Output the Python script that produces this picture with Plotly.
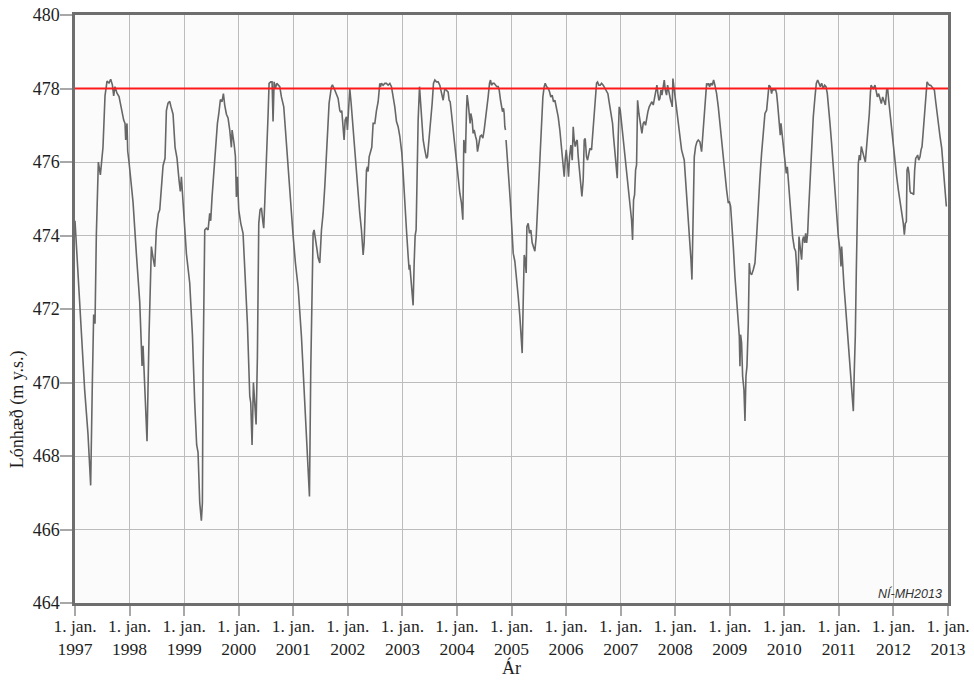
import plotly.graph_objects as go

# Decimal-year time stamps and reservoir level (m y.s.)
years = [
    1997.000, 1997.086, 1997.177, 1997.238, 1997.287, 1997.318, 1997.342, 1997.367, 1997.391, 1997.428,
    1997.465, 1997.513, 1997.550, 1997.587, 1997.623, 1997.654, 1997.685, 1997.709, 1997.733, 1997.770,
    1997.807, 1997.831, 1997.855, 1997.892, 1997.917, 1997.929, 1997.953, 1997.966, 1997.990, 1998.064,
    1998.125, 1998.186, 1998.216, 1998.229, 1998.247, 1998.278, 1998.320, 1998.357, 1998.400, 1998.430,
    1998.461, 1998.491, 1998.528, 1998.553, 1998.583, 1998.614, 1998.650, 1998.675, 1998.705, 1998.736,
    1998.760, 1998.797, 1998.834, 1998.870, 1998.907, 1998.931, 1998.950, 1998.980, 1999.042, 1999.103,
    1999.152, 1999.194, 1999.230,
    1999.255, 1999.286, 1999.316, 1999.335, 1999.347, 1999.359, 1999.378, 1999.408, 1999.439, 1999.469,
    1999.487, 1999.512, 1999.549, 1999.573, 1999.610, 1999.634, 1999.665, 1999.695, 1999.720, 1999.744,
    1999.775, 1999.805, 1999.836, 1999.866, 1999.879, 1999.915, 1999.940, 1999.958, 1999.976, 2000.001,
    2000.038, 2000.080, 2000.111, 2000.160, 2000.203, 2000.221, 2000.245, 2000.270, 2000.294, 2000.319,
    2000.343, 2000.368, 2000.392, 2000.417, 2000.441, 2000.459, 2000.478, 2000.508, 2000.539, 2000.557,
    2000.588, 2000.612, 2000.630, 2000.649, 2000.673, 2000.698, 2000.722, 2000.753, 2000.783, 2000.826,
    2000.857, 2000.906, 2000.948, 2000.997, 2001.040, 2001.089, 2001.150, 2001.199, 2001.242, 2001.272,
    2001.297, 2001.321, 2001.345, 2001.364, 2001.382, 2001.413, 2001.437, 2001.455, 2001.486, 2001.517,
    2001.547, 2001.578, 2001.620, 2001.657, 2001.700, 2001.718, 2001.761, 2001.792, 2001.822, 2001.853,
    2001.871, 2001.889, 2001.914, 2001.932, 2001.951, 2001.975, 2001.993, 2002.012, 2002.036, 2002.061,
    2002.097, 2002.128, 2002.158, 2002.189, 2002.219, 2002.250, 2002.281, 2002.299, 2002.317, 2002.342,
    2002.360, 2002.372, 2002.391, 2002.415, 2002.439, 2002.464, 2002.495, 2002.525, 2002.556, 2002.586,
    2002.598, 2002.617, 2002.647, 2002.678, 2002.708, 2002.739, 2002.770, 2002.800, 2002.831, 2002.861,
    2002.892, 2002.922, 2002.953, 2002.990, 2003.014, 2003.045, 2003.075, 2003.106, 2003.124, 2003.136,
    2003.155, 2003.179, 2003.197, 2003.216, 2003.234, 2003.252, 2003.271, 2003.289, 2003.314, 2003.332,
    2003.356, 2003.381, 2003.411, 2003.442, 2003.460, 2003.479, 2003.503, 2003.527, 2003.546, 2003.570,
    2003.595, 2003.625, 2003.656, 2003.686, 2003.717, 2003.747, 2003.778, 2003.809,
    2003.839, 2003.857, 2003.876, 2003.900, 2003.931, 2003.961, 2003.992, 2004.022, 2004.053, 2004.083,
    2004.108, 2004.126, 2004.145, 2004.157, 2004.175, 2004.187, 2004.206, 2004.224, 2004.242, 2004.255,
    2004.279, 2004.297, 2004.316, 2004.340, 2004.359, 2004.377, 2004.401, 2004.426, 2004.450, 2004.475,
    2004.499, 2004.524, 2004.548, 2004.572, 2004.597, 2004.615, 2004.634, 2004.658, 2004.682, 2004.707,
    2004.731, 2004.756, 2004.774, 2004.799, 2004.817, 2004.835, 2004.854, 2004.866, 2004.878, 2004.890,
    None,
    2004.900, 2004.915, 2004.939, 2004.964, 2004.988, 2005.013, 2005.031, 2005.061, 2005.092, 2005.123,
    2005.153, 2005.172, 2005.196, 2005.214, 2005.233, 2005.251, 2005.269, 2005.282, 2005.306, 2005.330,
    2005.355, 2005.379, 2005.404, 2005.428, 2005.453, 2005.477, 2005.501, 2005.526, 2005.550, 2005.575,
    2005.599, 2005.618, 2005.642, 2005.673, 2005.697, 2005.721, 2005.746, 2005.770, 2005.795, 2005.825,
    2005.856, 2005.886, 2005.917, 2005.948, 2005.966, 2005.984, 2006.003, 2006.027, 2006.045, 2006.064,
    2006.088, 2006.113,
    2006.131, 2006.149, 2006.168, 2006.186, 2006.204, 2006.223, 2006.241, 2006.265, 2006.290, 2006.314,
    2006.333, 2006.351, 2006.375, 2006.394, 2006.412, 2006.437, 2006.467, 2006.485, 2006.510, 2006.534,
    2006.559, 2006.577, 2006.602, 2006.626, 2006.650, 2006.681, 2006.712, 2006.742, 2006.767, 2006.785,
    2006.803, 2006.828, 2006.852, 2006.870, 2006.889, 2006.907, 2006.925, 2006.938, 2006.956, 2006.974,
    2006.993, 2007.017, 2007.048, 2007.078, 2007.109, 2007.139, 2007.170, 2007.200, 2007.219, 2007.237,
    2007.256, 2007.274, 2007.292, 2007.311, 2007.335, 2007.353, 2007.372, 2007.390, 2007.414, 2007.433,
    2007.457, 2007.476, 2007.500, 2007.524, 2007.549, 2007.573, 2007.598, 2007.622, 2007.647, 2007.665,
    2007.683, 2007.702, 2007.720, 2007.738, 2007.757, 2007.781, 2007.800, 2007.818, 2007.842, 2007.861,
    2007.879, 2007.897, 2007.916, 2007.934, 2007.946, 2007.958, 2007.977, 2007.995, 2008.026, 2008.056,
    2008.087, 2008.117, 2008.166, 2008.197, 2008.221, 2008.252, 2008.270, 2008.289, 2008.307, 2008.325,
    2008.350, 2008.374, 2008.399,
    2008.423, 2008.453, 2008.484, 2008.508, 2008.533, 2008.557, 2008.576, 2008.594, 2008.612, 2008.631,
    2008.655, 2008.680, 2008.704, 2008.728, 2008.759, 2008.790, 2008.820, 2008.851, 2008.881, 2008.912,
    2008.942, 2008.973, 2008.991, 2009.016, 2009.034, 2009.065, 2009.095, 2009.126, 2009.156, 2009.175,
    2009.187, 2009.199, 2009.217, 2009.236, 2009.260, 2009.279, 2009.297, 2009.315, 2009.340, 2009.358,
    2009.376, 2009.401, 2009.431, 2009.462, 2009.492, 2009.523, 2009.554, 2009.584, 2009.615, 2009.645,
    2009.676, 2009.694, 2009.719, 2009.743, 2009.767, 2009.786, 2009.810, 2009.835, 2009.859, 2009.877,
    2009.896, 2009.914, 2009.926, 2009.939, 2009.957, 2009.981, 2010.012, 2010.036, 2010.055, 2010.067,
    2010.091, 2010.122, 2010.152, 2010.183, 2010.207, 2010.226, 2010.250, 2010.269, 2010.293, 2010.317,
    2010.336, 2010.354, 2010.373, 2010.391, 2010.409, 2010.428, 2010.446, 2010.470, 2010.501, 2010.531,
    2010.562, 2010.586, 2010.611, 2010.635, 2010.660, 2010.684, 2010.709,
    2010.715, 2010.739, 2010.764, 2010.788, 2010.813, 2010.837, 2010.867, 2010.898, 2010.929, 2010.959,
    2010.990, 2011.020, 2011.039, 2011.051, 2011.069, 2011.094, 2011.118, 2011.143, 2011.173, 2011.204,
    2011.234, 2011.265, 2011.283, 2011.301, 2011.320, 2011.338, 2011.356, 2011.375, 2011.393, 2011.411,
    2011.436, 2011.460, 2011.485, 2011.509, 2011.534, 2011.558, 2011.577, 2011.589, 2011.607, 2011.632,
    2011.662, 2011.680, 2011.705, 2011.729, 2011.754, 2011.778, 2011.803, 2011.827, 2011.852, 2011.876,
    2011.894, 2011.913, 2011.937, 2011.968, 2011.998, 2012.029, 2012.059, 2012.090, 2012.120, 2012.151,
    2012.181, 2012.200, 2012.218, 2012.237, 2012.249, 2012.267, 2012.285, 2012.304, 2012.322, 2012.347,
    2012.371, 2012.389, 2012.408, 2012.426, 2012.444, 2012.463, 2012.487, 2012.506, 2012.524, 2012.548,
    2012.573, 2012.597, 2012.616, 2012.634, 2012.658, 2012.683, 2012.707, 2012.732, 2012.750, 2012.775,
    2012.805, 2012.830, 2012.854, 2012.885, 2012.915, 2012.940, 2012.970,
]

level = [
    474.4, 472.0, 469.8, 468.6, 467.2, 470.0, 471.85, 471.6, 474.0, 476.0,
    475.65, 476.4, 477.8, 478.2, 478.15, 478.25, 478.1, 477.8, 478.05, 477.87,
    477.78, 477.6, 477.4, 477.14, 477.05, 476.6, 477.05, 476.3, 476.0, 474.9,
    473.5, 472.2, 471.0, 470.45, 471.0, 469.8, 468.4, 471.3, 473.7, 473.4,
    473.15, 474.15, 474.6, 474.7, 475.4, 475.9, 476.1, 477.4, 477.6, 477.65,
    477.5, 477.3, 476.4, 476.1, 475.5, 475.2, 475.6, 474.9, 473.5, 472.7,
    471.3, 469.45, 468.3,
    468.1, 466.73, 466.24, 466.73, 470.35, 472.16, 474.15, 474.2, 474.15, 474.6,
    474.4, 475.05, 475.9, 476.24, 477.05, 477.3, 477.7, 477.64, 477.86, 477.55,
    477.3, 477.2, 476.87, 476.4, 476.87, 476.5, 476.15, 475.05, 475.6, 474.7,
    474.33, 474.06, 473.07, 471.6, 469.63, 469.45, 468.3, 470.0, 469.45, 468.86,
    470.7, 474.33, 474.7, 474.75, 474.4, 474.2, 474.9, 475.9, 477.3, 478.14,
    478.18, 478.18, 477.1, 478.18, 478.0, 478.14, 478.09, 478.05, 477.77, 477.5,
    476.87, 475.78, 474.88, 474.0, 473.25, 472.6, 471.26, 469.9, 468.45, 467.64,
    466.9, 470.35, 473.07, 474.06, 474.15, 473.9, 473.6, 473.4, 473.25, 474.15,
    474.6, 475.33, 476.5, 477.6, 478.05, 478.1, 477.96, 477.86, 477.73, 477.4,
    477.35, 477.4, 476.96, 476.6, 477.14, 477.23, 476.87, 477.6, 478.0, 477.6,
    476.87, 476.24, 475.6, 475.05, 474.6, 474.15, 473.47, 473.8, 474.9, 475.78,
    475.87, 475.74, 476.14, 476.24, 476.4, 477.05, 477.05, 477.4, 477.64, 478.14,
    478.05, 478.14, 478.09, 478.14, 478.14, 478.09, 478.14, 478.05, 477.82, 477.5,
    477.1, 476.96, 476.7, 476.24, 475.7, 475.05, 474.15, 473.43, 473.07, 473.2,
    472.8, 472.4, 472.1, 473.25, 474.0, 474.15, 476.0, 477.14, 478.05, 477.6,
    477.14, 476.6, 476.33, 476.1, 476.14, 476.42, 476.96, 477.14, 477.6, 478.14,
    478.23, 478.18, 478.18, 478.09, 477.86, 477.68, 478.0, 477.96,
    477.9, 477.68, 477.64, 477.32, 476.87, 476.42, 476.0, 475.5, 475.15, 474.88,
    474.43, 476.6, 476.42, 476.24, 477.4, 477.82, 477.6, 477.4, 477.05, 477.32,
    477.14, 476.78, 476.87, 476.7, 476.6, 476.28, 476.5, 476.7, 476.73, 476.65,
    476.87, 477.14, 477.4, 477.77, 478.14, 478.23, 478.09, 478.14, 478.14, 478.09,
    478.05, 478.05, 477.96, 477.68, 477.5, 477.37, 477.46, 477.32, 476.96, 476.87,
    None,
    476.6, 476.33, 475.78, 475.24, 474.7, 474.0, 473.52, 473.3, 472.89, 472.34,
    471.8, 471.35, 470.8, 472.16, 473.47, 473.33, 472.98, 474.24, 474.33, 474.06,
    474.15, 473.8, 473.66, 473.57, 473.97, 474.7, 475.51, 476.5, 477.23, 477.77,
    478.05, 478.14, 478.05, 478.0, 477.91, 477.77, 477.82, 477.64, 477.68, 477.46,
    477.23, 476.87, 476.42, 475.87, 475.6, 476.05, 476.33, 475.96, 475.6, 476.14,
    476.46, 476.05,
    476.96, 476.6, 476.42, 476.55, 476.6, 476.14, 475.78, 475.42, 475.06, 475.51,
    476.6, 476.64, 476.14, 476.05, 476.24, 476.37, 476.33, 476.69, 477.23, 477.77,
    478.15, 478.18, 478.09, 478.09, 478.14, 478.09, 478.0, 477.91, 477.86, 477.68,
    477.5, 477.32, 477.05, 476.69, 476.33, 476.05, 475.78, 475.56, 476.69, 477.5,
    477.41, 477.05, 476.69, 476.33, 475.87, 475.42, 474.88, 474.43, 473.88, 474.97,
    475.11, 475.78, 475.92, 477.68, 477.32, 477.14, 476.87, 476.78, 477.05, 477.1,
    477.0, 477.23, 477.37, 477.5, 477.59, 477.64, 477.55, 477.77, 478.0, 478.09,
    477.86, 477.68, 477.73, 477.96, 477.82, 478.0, 478.23, 477.96, 477.82, 478.09,
    477.91, 477.77, 477.68, 477.59, 477.5, 478.27, 478.05, 477.86, 477.5, 477.05,
    476.69, 476.33, 476.05, 475.42, 474.7, 474.24, 473.8, 473.34, 472.8, 473.97,
    476.14, 476.42, 476.55,
    476.6, 476.55, 476.28, 476.78, 477.14, 477.77, 478.14, 478.09, 478.14, 478.05,
    478.14, 478.09, 478.23, 478.09, 477.86, 477.5, 477.05, 476.51, 476.05, 475.6,
    475.24, 474.88, 474.93, 474.79, 474.24, 473.7, 472.89, 472.16, 471.44, 471.26,
    470.44, 471.3, 471.08, 470.17, 469.81, 468.95, 470.17, 470.44, 471.62, 473.25,
    472.98, 472.93, 473.07, 473.25, 473.97, 474.88, 475.6, 476.24, 476.87, 477.32,
    477.41, 477.68, 478.09, 478.05, 477.86, 478.0, 477.96, 478.0, 477.86, 477.59,
    477.32, 477.05, 476.73, 477.05, 476.78, 476.33, 476.05, 475.69, 475.87, 475.6,
    475.06, 474.52, 473.97, 473.66, 473.57, 473.16, 472.5, 473.97, 473.7, 473.34,
    473.88, 473.97, 473.8, 474.06, 473.8, 474.06, 474.7, 475.51, 476.33, 477.23,
    477.77, 478.14, 478.23, 478.14, 478.05, 478.14, 478.0,
    478.0, 478.09, 478.05, 477.86, 477.5, 477.05, 476.5, 475.87, 475.15, 474.52,
    473.97, 473.61, 473.16, 473.7, 473.07, 472.62, 472.16, 471.62, 470.99, 470.35,
    469.81, 469.22, 470.35, 471.26, 473.07, 474.88, 475.96, 476.19, 476.05, 476.42,
    476.24, 476.14, 476.0, 476.42, 476.78, 477.32, 477.86, 478.09, 478.05, 478.0,
    478.09, 477.96, 477.77, 477.86, 477.68, 477.59, 477.77, 477.64, 477.55, 477.96,
    478.0, 477.68, 477.32, 476.78, 476.33, 475.96, 475.6, 475.24, 474.97, 474.61,
    474.33, 474.02, 474.33, 474.38, 475.78, 475.87, 475.69, 475.2, 475.15, 475.15,
    475.11, 475.78, 476.1, 476.14, 476.19, 476.05, 476.14, 476.33, 476.42, 476.87,
    477.41, 477.96, 478.18, 478.14, 478.09, 478.09, 478.05, 478.0, 477.96, 477.64,
    477.23, 476.96, 476.69, 476.37, 475.78, 475.24, 474.79,
]

reference_level = 478.0
tick_years = list(range(1997, 2014))
tick_labels = ["1. jan.<br>%d" % y for y in tick_years]
y_ticks = list(range(464, 481, 2))

SERIF = "Liberation Serif, Times New Roman, serif"
TEXT = "#1e1e1e"

fig = go.Figure()
fig.add_trace(go.Scatter(
    x=years, y=level, mode="lines",
    line=dict(color="#676767", width=1.6),
    connectgaps=False, showlegend=False, hoverinfo="x+y",
))
fig.add_hline(y=reference_level, line=dict(color="#ff1a1a", width=2))

fig.add_annotation(
    text="<i>NÍ-MH2013</i>", xref="paper", yref="paper",
    x=0.995, y=0.016, xanchor="right", yanchor="middle", showarrow=False,
    font=dict(family="Liberation Sans, Arial, sans-serif", size=12.5, color="#333333"),
)
# axis titles
fig.add_annotation(
    text="Ár", xref="paper", yref="paper", x=0.5, y=-0.109,
    xanchor="center", yanchor="middle", showarrow=False,
    font=dict(family=SERIF, size=18, color=TEXT),
)
fig.add_annotation(
    text="Lónhæð (m y.s.)", xref="paper", yref="paper", x=-0.065, y=0.33,
    xanchor="center", yanchor="middle", showarrow=False, textangle=-90,
    font=dict(family=SERIF, size=18, color=TEXT),
)

axis_common = dict(
    showgrid=True, gridcolor="#bcbcbc", gridwidth=1.3,
    showline=True, linecolor="#6e6e6e", linewidth=2.5, mirror=True,
    ticks="outside", tickcolor="#a8a8a8", tickwidth=1.5,
    zeroline=False, automargin=False, ticklabeloverflow="allow",
)

fig.update_layout(
    width=974, height=686,
    margin=dict(l=75, r=26, t=15, b=83),
    paper_bgcolor="white", plot_bgcolor="#fbfbfb",
    font=dict(family=SERIF, color=TEXT),
    xaxis=dict(
        **axis_common,
        range=[1997, 2013], tickmode="array", tickvals=tick_years, ticktext=tick_labels,
        ticklen=10, ticklabelstandoff=-5,
        tickfont=dict(family=SERIF, size=17.5, color=TEXT),
    ),
    yaxis=dict(
        **axis_common,
        range=[464, 480], tickmode="array", tickvals=y_ticks,
        ticklen=12, ticklabelstandoff=-3,
        tickfont=dict(family=SERIF, size=18, color=TEXT),
    ),
)

# remove the default page-body margin so the figure fills the window from its corner
fig.write_html(
    "out.html",
    config={"displayModeBar": False},
    post_script="document.body.style.margin='0';document.body.style.overflow='hidden';",
)
